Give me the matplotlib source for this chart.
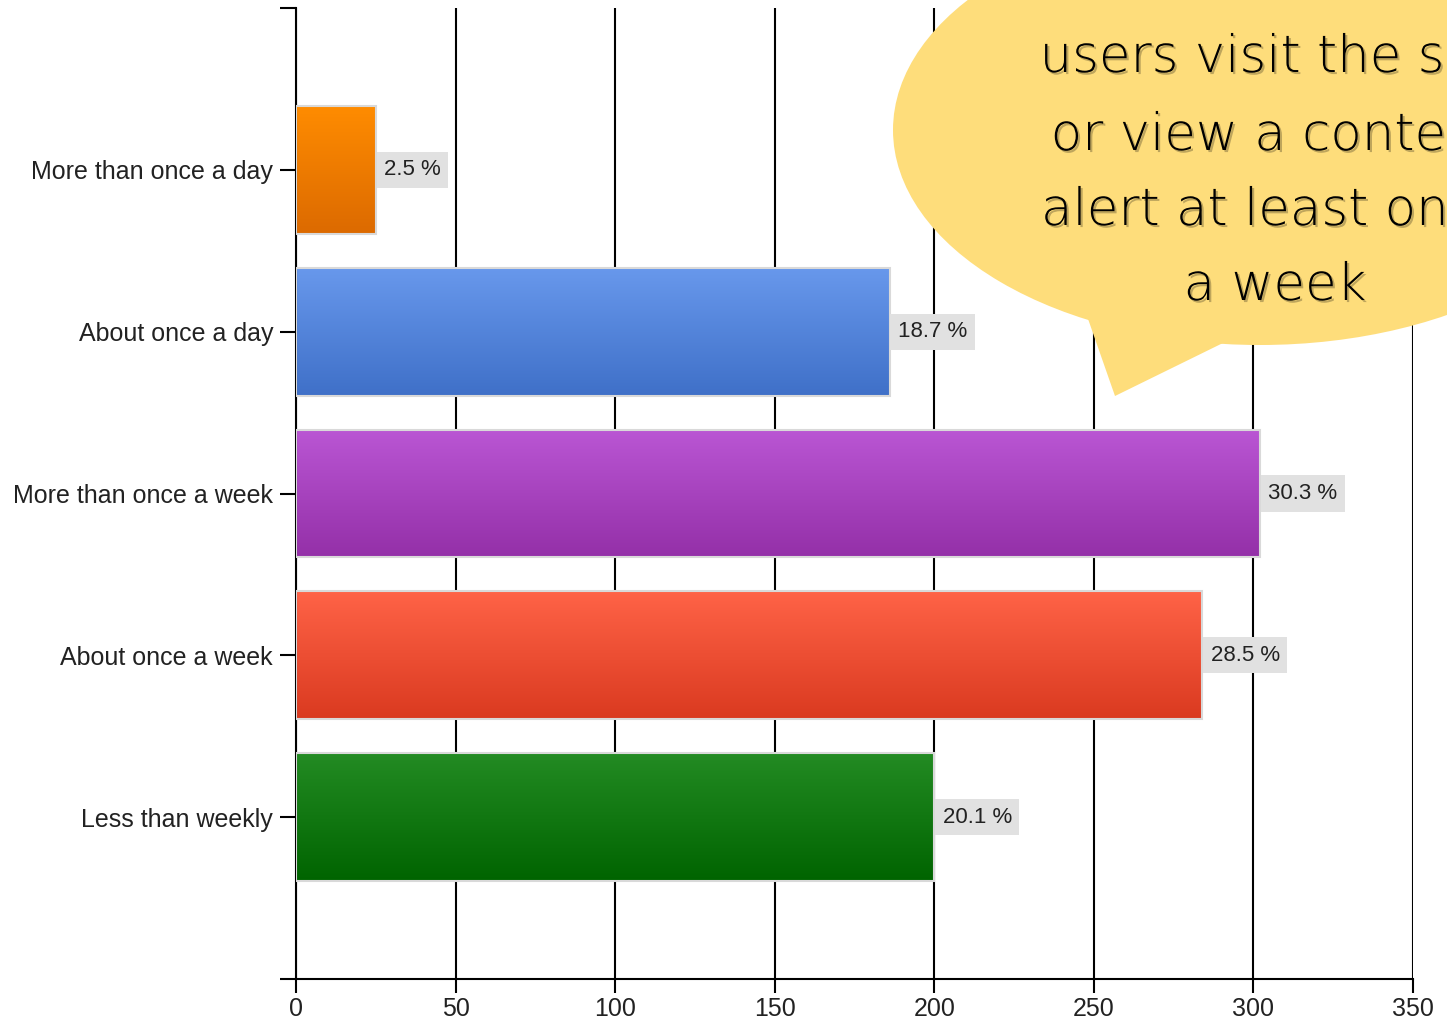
import numpy as np
import matplotlib.pyplot as plt
from matplotlib.patches import Ellipse, Polygon
from matplotlib.colors import to_rgb
import matplotlib.patheffects as pe

# Survey answers: how often users visit
categories = ["More than once a day", "About once a day", "More than once a week",
              "About once a week", "Less than weekly"]
counts = [25, 186, 302, 284, 200]
top_colors = ["#ff8c00", "#6898ec", "#ba56d4", "#ff6347", "#238b23"]
bottom_colors = ["#dc6a00", "#3f70c8", "#9430a8", "#da3a20", "#006400"]
x_ticks = [0, 50, 100, 150, 200, 250, 300, 350]
callout_lines = ["users visit the site", "or view a content", "alert at least once", "a week"]

W, H = 1447, 1026
fig = plt.figure(figsize=(W / 100, H / 100), dpi=100)
ax = fig.add_axes([296 / W, 1 - 979 / H, (1413 - 296) / W, (979 - 8) / H])

ypos = np.arange(len(categories))
bar_h = 0.79
bars = ax.barh(ypos, counts, height=bar_h, facecolor="none",
               edgecolor="#d9d9d9", linewidth=1.5, zorder=3)

# vertical gradient fill inside every bar
t = np.linspace(0, 1, 256)[:, None, None]
for bar, c0, c1 in zip(bars, top_colors, bottom_colors):
    rgb = (1 - t) * np.array(to_rgb(c0)) + t * np.array(to_rgb(c1))
    x0, y0 = bar.get_x(), bar.get_y()
    w, h = bar.get_width(), bar.get_height()
    ax.imshow(rgb, extent=[x0, x0 + w, y0 + h, y0], origin="upper",
              aspect="auto", zorder=2, interpolation="bilinear")

total = sum(counts)
for y, c in zip(ypos, counts):
    ax.annotate(f"{100 * c / total:.1f} %", xy=(c, y), xytext=(6, 0),
                textcoords="offset points", ha="left", va="center",
                fontsize=16, family="Liberation Sans", color="#222222", zorder=5,
                bbox=dict(boxstyle="square,pad=0.34", fc="#e1e1e1", ec="none"))

ax.set_xlim(0, 350)
ax.set_ylim(5, -1)
ax.set_xticks(x_ticks)
ax.set_xticklabels([str(v) for v in x_ticks])
ax.set_yticks([-1] + list(ypos) + [5])
ax.set_yticklabels([""] + categories + [""])
ax.set_axisbelow(True)
ax.xaxis.grid(True, color="black", linewidth=1.5)
for s in ("top", "right"):
    ax.spines[s].set_visible(False)
for s in ("left", "bottom"):
    ax.spines[s].set_linewidth(1.5)
    ax.spines[s].set_color("black")
ax.tick_params(axis="y", length=11.5, width=1.5, pad=5, labelsize=18, labelcolor="#222222")
ax.tick_params(axis="x", length=10, width=1.5, pad=3, labelsize=18, labelcolor="#222222")
for lbl in ax.get_xticklabels() + ax.get_yticklabels():
    lbl.set_family("Liberation Sans")

# speech-bubble callout drawn in figure pixel coordinates
oax = fig.add_axes([0, 0, 1, 1], zorder=10)
oax.set_xlim(0, W)
oax.set_ylim(H, 0)
oax.axis("off")
bubble = "#fedd7b"
oax.add_patch(Ellipse((1260, 130), 734, 430, fc=bubble, ec="none"))
oax.add_patch(Polygon([(1095, 300), (1087, 316), (1115, 396), (1225, 342), (1225, 320)],
                      closed=True, fc=bubble, ec="none"))
baselines = [72, 150, 225, 300]
for line, yb in zip(callout_lines, baselines):
    oax.text(1275, yb, line, ha="center", va="baseline", fontsize=37,
             family="DejaVu Sans", fontweight="light", color="black",
             path_effects=[pe.withSimplePatchShadow(offset=(1.5, -1.5), alpha=0.25)])

fig.savefig("out.png", dpi=100)
